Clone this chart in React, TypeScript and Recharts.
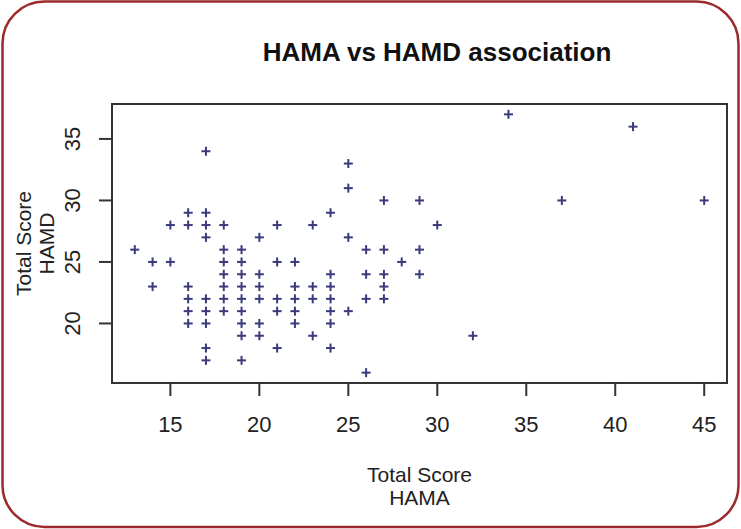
import React from "react";
import { ScatterChart, Scatter, XAxis, YAxis, ReferenceArea } from "recharts";

const hamaScores = [
  13,
  14, 14,
  15, 15,
  16, 16, 16, 16, 16, 16,
  17, 17, 17, 17, 17, 17, 17, 17, 17,
  18, 18, 18, 18, 18, 18, 18,
  19, 19, 19, 19, 19, 19, 19, 19, 19,
  20, 20, 20, 20, 20, 20,
  21, 21, 21, 21, 21,
  22, 22, 22, 22, 22,
  23, 23, 23, 23,
  24, 24, 24, 24, 24, 24, 24,
  25, 25, 25, 25,
  26, 26, 26, 26,
  27, 27, 27, 27, 27,
  28,
  29, 29, 29,
  30,
  32,
  34,
  37,
  41,
  45,
];

const hamdScores = [
  26,
  25, 23,
  28, 25,
  29, 28, 23, 22, 21, 20,
  34, 29, 28, 27, 22, 21, 20, 18, 17,
  28, 26, 25, 24, 23, 22, 21,
  26, 25, 24, 23, 22, 21, 20, 19, 17,
  27, 24, 23, 22, 20, 19,
  28, 25, 22, 21, 18,
  25, 23, 22, 21, 20,
  28, 23, 22, 19,
  29, 24, 23, 22, 21, 20, 18,
  33, 31, 27, 21,
  26, 24, 22, 16,
  30, 26, 24, 23, 22,
  25,
  30, 26, 24,
  28,
  19,
  37,
  30,
  36,
  30,
];

const xTicks = [15, 20, 25, 30, 35, 40, 45];
const yTicks = [20, 25, 30, 35];
const xDomain = [11.72, 46.28];
const yDomain = [15.16, 37.84];

const points = hamaScores.map((x, i) => ({ x, y: hamdScores[i] }));

const MARK = "#3a3a7c";
const FONT = "'Liberation Sans', Arial, sans-serif";

const PlusShape = (props: any) => {
  const { cx, cy } = props;
  if (cx == null || cy == null) return null;
  const a = 4.5;
  return (
    <g>
      <line x1={cx - a} y1={cy} x2={cx + a} y2={cy} stroke={MARK} strokeWidth={2} />
      <line x1={cx} y1={cy - a} x2={cx} y2={cy + a} stroke={MARK} strokeWidth={2} />
    </g>
  );
};

const XTick = (props: any) => {
  const { x, y, payload } = props;
  return (
    <text x={x} y={y + 34} textAnchor="middle" fontSize={22} fill="#222" fontFamily={FONT}>
      {payload.value}
    </text>
  );
};

const YTick = (props: any) => {
  const { x, y, payload } = props;
  const bx = x - 17;
  return (
    <text
      x={bx}
      y={y}
      textAnchor="middle"
      fontSize={22}
      fill="#222"
      fontFamily={FONT}
      transform={`rotate(-90, ${bx}, ${y})`}
    >
      {payload.value}
    </text>
  );
};

const XLabel = (props: any) => {
  const vb = props.viewBox || {};
  const cx = (vb.x ?? 112) + (vb.width ?? 615) / 2;
  const y0 = vb.y ?? 383;
  return (
    <g>
      <text x={cx} y={y0 + 99} textAnchor="middle" fontSize={21} fill="#222" fontFamily={FONT}>
        Total Score
      </text>
      <text x={cx} y={y0 + 122} textAnchor="middle" fontSize={21} fill="#222" fontFamily={FONT}>
        HAMA
      </text>
    </g>
  );
};

const YLabel = (props: any) => {
  const vb = props.viewBox || {};
  const cy = (vb.y ?? 104) + (vb.height ?? 279) / 2;
  return (
    <g>
      <text
        x={31}
        y={cy}
        textAnchor="middle"
        fontSize={21}
        fill="#222"
        fontFamily={FONT}
        transform={`rotate(-90, 31, ${cy})`}
      >
        Total Score
      </text>
      <text
        x={54}
        y={cy}
        textAnchor="middle"
        fontSize={21}
        fill="#222"
        fontFamily={FONT}
        transform={`rotate(-90, 54, ${cy})`}
      >
        HAMD
      </text>
    </g>
  );
};

export default function App() {
  return (
    <div style={{ position: "fixed", left: 0, top: 0, width: 741, height: 529, background: "#fff" }}>
      <ScatterChart
        width={741}
        height={529}
        margin={{ top: 104, right: 14, left: 0, bottom: 0 }}
      >
        <XAxis
          type="number"
          dataKey="x"
          domain={xDomain}
          ticks={xTicks}
          allowDataOverflow
          height={146}
          axisLine={false}
          tickSize={13}
          tickLine={{ stroke: "#333", strokeWidth: 2 }}
          tick={<XTick />}
          interval={0}
          label={<XLabel />}
        />
        <YAxis
          type="number"
          dataKey="y"
          domain={yDomain}
          ticks={yTicks}
          allowDataOverflow
          width={112}
          axisLine={false}
          tickSize={13}
          tickLine={{ stroke: "#333", strokeWidth: 2 }}
          tick={<YTick />}
          interval={0}
          label={<YLabel />}
        />
        <ReferenceArea
          x1={xDomain[0]}
          x2={xDomain[1]}
          y1={yDomain[0]}
          y2={yDomain[1]}
          fill="none"
          fillOpacity={0}
          stroke="#333"
          strokeWidth={2}
          ifOverflow="visible"
        />
        <Scatter data={points} shape={<PlusShape />} isAnimationActive={false} />
      </ScatterChart>
      <svg
        width={741}
        height={529}
        style={{ position: "absolute", left: 0, top: 0, pointerEvents: "none" }}
      >
        <rect x={2.5} y={1.5} width={736} height={525.5} rx={42} ry={42} fill="none" stroke="#9b2a2c" strokeWidth={2.5} />
        <text x={437} y={61} textAnchor="middle" fontSize={26} fontWeight="bold" fill="#111" fontFamily={FONT}>
          HAMA vs HAMD association
        </text>
      </svg>
    </div>
  );
}
